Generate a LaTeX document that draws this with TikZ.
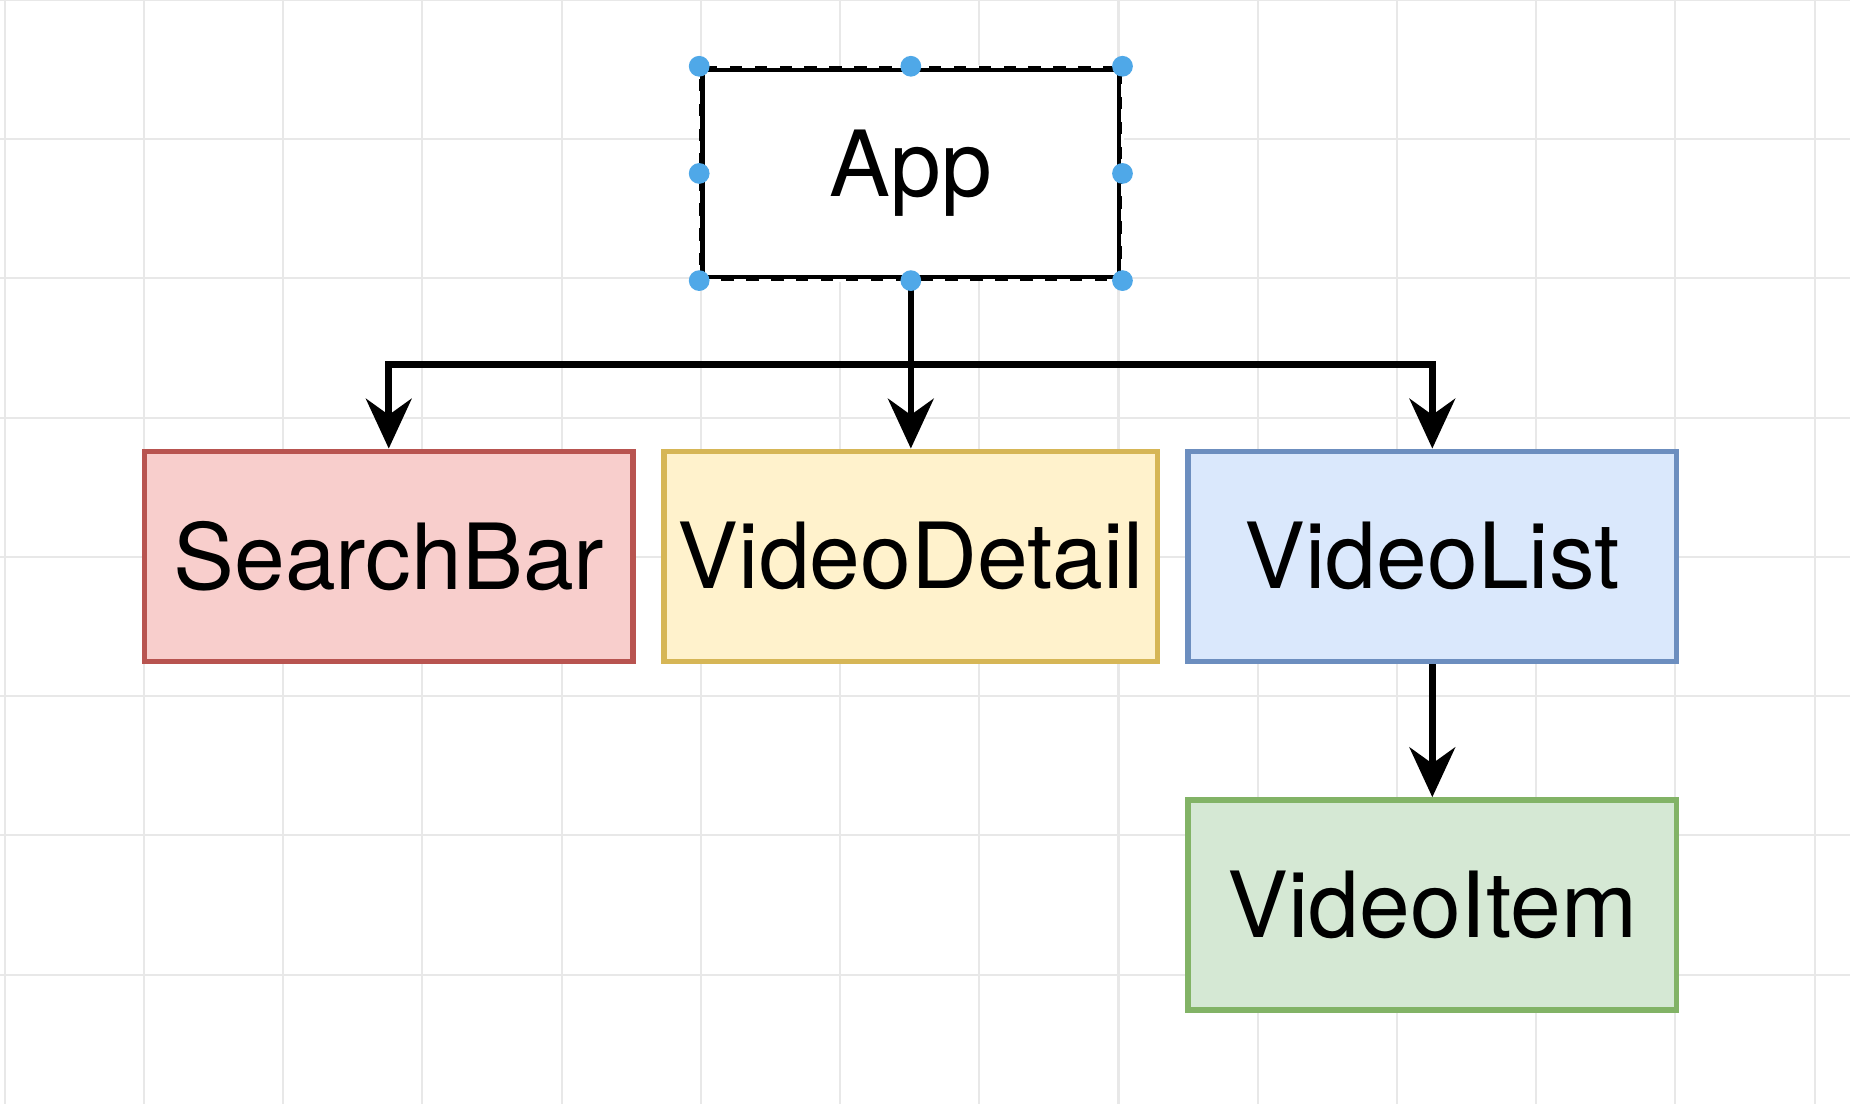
\documentclass[tikz,border=0pt]{standalone}
\usepackage{fontspec}
\setmainfont{TeX Gyre Heros}
\usetikzlibrary{positioning,arrows.meta}
\definecolor{gridc}{RGB}{232,232,232}
\definecolor{redfill}{HTML}{F8CECC}\definecolor{redline}{HTML}{B85450}
\definecolor{yelfill}{HTML}{FFF2CC}\definecolor{yelline}{HTML}{D6B656}
\definecolor{blufill}{HTML}{DAE8FC}\definecolor{bluline}{HTML}{6C8EBF}
\definecolor{grnfill}{HTML}{D5E8D4}\definecolor{grnline}{HTML}{82B366}
\definecolor{handle}{HTML}{4FA8E8}
\tikzset{
    comp/.style={draw, line width=1.3pt, minimum width=4.14cm, minimum height=1.78cm,
        font=\fontsize{22}{26}\selectfont},
    link/.style={line width=1.6pt, -{Stealth[length=12pt,width=11pt]}},
    dot/.style={circle, fill=handle, inner sep=0pt, minimum size=5pt}
}
\begin{document}
\begin{tikzpicture}[x=0.01cm,y=-0.01cm]
    \useasboundingbox (0,0) rectangle (1568,936);
    \fill[white] (0,0) rectangle (1568,936);
% grid
    \foreach \x in {4,122,...,1568} \draw[gridc, line width=0.5pt] (\x,0) -- (\x,936);
    \foreach \y in {0,118,...,936} \draw[gridc, line width=0.5pt] (0,\y) -- (1568,\y);

% components
    \node[comp, minimum width=3.54cm, minimum height=1.77cm, fill=white] (app) at (772,147) {App};
    \node[comp, fill=redfill, draw=redline] (searchbar) at (329.5,471.5) {SearchBar};
    \node[comp, fill=yelfill, draw=yelline] (videodetail) at (772,471.5) {VideoDetail};
    \node[comp, fill=blufill, draw=bluline] (videolist) at (1214,471.5) {VideoList};
    \node[comp, fill=grnfill, draw=grnline] (videoitem) at (1214,767) {VideoItem};

% connectors
    \coordinate (bus) at (772,309);
    \draw[line width=1.6pt] (app.south) -- (bus);
    \draw[link] (bus) -| (searchbar.north);
    \draw[link] (bus) -- (videodetail.north);
    \draw[link] (bus) -| (videolist.north);
    \draw[link] (videolist.south) -- (videoitem.north);

% selection handles
    \draw[white, dashed, line width=0.6pt] (app.north west) rectangle (app.south east);
    \foreach \a in {north west,north,north east,east,south east,south,south west,west}
        \node[dot] at (app.\a) {};
\end{tikzpicture}
\end{document}
